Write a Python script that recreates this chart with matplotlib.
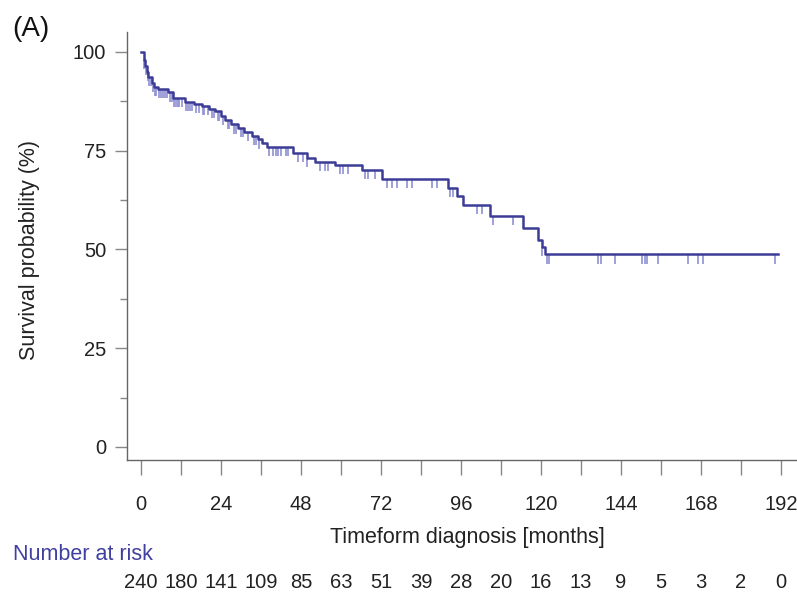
import numpy as np
import matplotlib
matplotlib.use("Agg")
import matplotlib.pyplot as plt

plt.rcParams['font.family'] = ['Liberation Sans', 'DejaVu Sans']

# Kaplan-Meier steps (months, survival %)
event_times = [0, 0.8, 1.2, 1.8, 2.2, 3.2, 4.0, 5.1, 8.1, 9.6, 13.2, 16.0, 18.2,
               20.5, 22.2, 24.0, 25.2, 27.0, 29.1, 31.0, 33.2, 35.0, 36.2, 37.7,
               45.7, 49.7, 52.2, 58.2, 66.2, 72.2, 92.0, 94.8, 96.7, 104.7,
               114.5, 119.2, 120.3, 121.2]
survival = [100, 98, 96.3, 95, 93.7, 92, 91.2, 90.5, 89.7, 88.3, 87.4, 86.8, 86.2,
            85.6, 84.9, 83.8, 82.8, 81.6, 80.8, 79.8, 78.6, 77.8, 76.9, 76.0,
            74.4, 73.1, 72.2, 71.4, 70.1, 67.8, 65.6, 63.4, 61.3, 58.5,
            55.4, 52.4, 50.6, 48.7]
last_time = 191

censor_times = [1.0, 1.5, 2.0, 2.5, 3.0, 3.6, 4.2, 4.5, 5.5, 6.0, 6.5, 7.2, 7.8, 8.6,
                9.2, 10.0, 10.5, 11.0, 11.5, 12.3, 13.5, 14.0, 14.6, 15.2, 16.5,
                17.3, 18.5, 19.0, 20.0, 21.2, 21.8, 23.0, 23.5, 24.5, 26.0, 26.5,
                27.8, 28.5, 30.0, 30.6, 32.0, 33.8, 34.5, 35.5, 38.5, 39.5, 40.5,
                41.2, 42.0, 43.5, 44.2, 47.0, 48.6, 49.8, 53.7, 55.2, 56.1, 59.7,
                60.6, 62.1, 67.2, 68.1, 70.2, 73.8, 75.3, 76.8, 79.8, 81.3, 87.3,
                88.8, 92.7, 93.6, 100.8, 102.3, 105.6, 111.6, 120.3, 121.8, 122.4,
                137.2, 137.9, 142.2, 150.3, 151.2, 151.9, 155.0, 164.0, 167.0,
                168.6, 190.2]

risk_times = list(range(0, 193, 12))
n_at_risk = [240, 180, 141, 109, 85, 63, 51, 39, 28, 20, 16, 13, 9, 5, 3, 2, 0]

line_color = '#3c3c96'
censor_color = '#9090d4'

fig = plt.figure(figsize=(7.97, 5.96), dpi=100)
ax = fig.add_axes([127 / 797, 1 - 460 / 596, 670 / 797, 428 / 596])

xs = event_times + [last_time]
ys = survival + [survival[-1]]
ax.step(xs, ys, where='post', color=line_color, lw=1.8, zorder=3)

# censor ticks hanging below the curve
idx = np.searchsorted(event_times, censor_times, side='right') - 1
s_c = np.array(survival)[idx]
ax.vlines(censor_times, s_c - 2.3, s_c, color=censor_color, lw=1.2, zorder=2)

ax.set_xlim(-4.2, 196.8)
ax.set_ylim(-3.3, 105)

ax.spines['top'].set_visible(False)
ax.spines['right'].set_visible(False)
for s in ['left', 'bottom']:
    ax.spines[s].set_color('#666666')
    ax.spines[s].set_linewidth(1.0)

ax.set_xticks(range(0, 193, 24))
ax.set_xticks(range(12, 193, 24), minor=True)
ax.set_yticks([0, 25, 50, 75, 100])
ax.set_yticks([12.5, 37.5, 62.5, 87.5], minor=True)

ax.tick_params(axis='x', which='both', length=11, width=1.0, color='#888888',
               pad=14, labelsize=14.5, labelcolor='#222222')
ax.tick_params(axis='y', which='major', length=9, width=1.0, color='#888888',
               pad=6, labelsize=14.5, labelcolor='#222222')
ax.tick_params(axis='y', which='minor', length=5, width=1.0, color='#888888')

fig.text(30 / 797, 1 - 250 / 596, 'Survival probability (%)', rotation=90,
         ha='center', va='center', fontsize=15.5, color='#222222')
fig.text(467 / 797, 1 - 537 / 596, 'Timeform diagnosis [months]',
         ha='center', va='center', fontsize=15.5, color='#222222')
fig.text(13 / 797, 1 - 555 / 596, 'Number at risk', ha='left', va='center',
         fontsize=15.5, color='#4040a0')
fig.text(12 / 797, 1 - 29 / 596, '(A)', ha='left', va='center',
         fontsize=20, color='#111111')

trans = matplotlib.transforms.blended_transform_factory(ax.transData, fig.transFigure)
for t, n in zip(risk_times, n_at_risk):
    ax.text(t, 1 - 583 / 596, str(n), transform=trans, ha='center', va='center',
            fontsize=14.5, color='#222222', clip_on=False)

fig.savefig('out.png', dpi=100)
